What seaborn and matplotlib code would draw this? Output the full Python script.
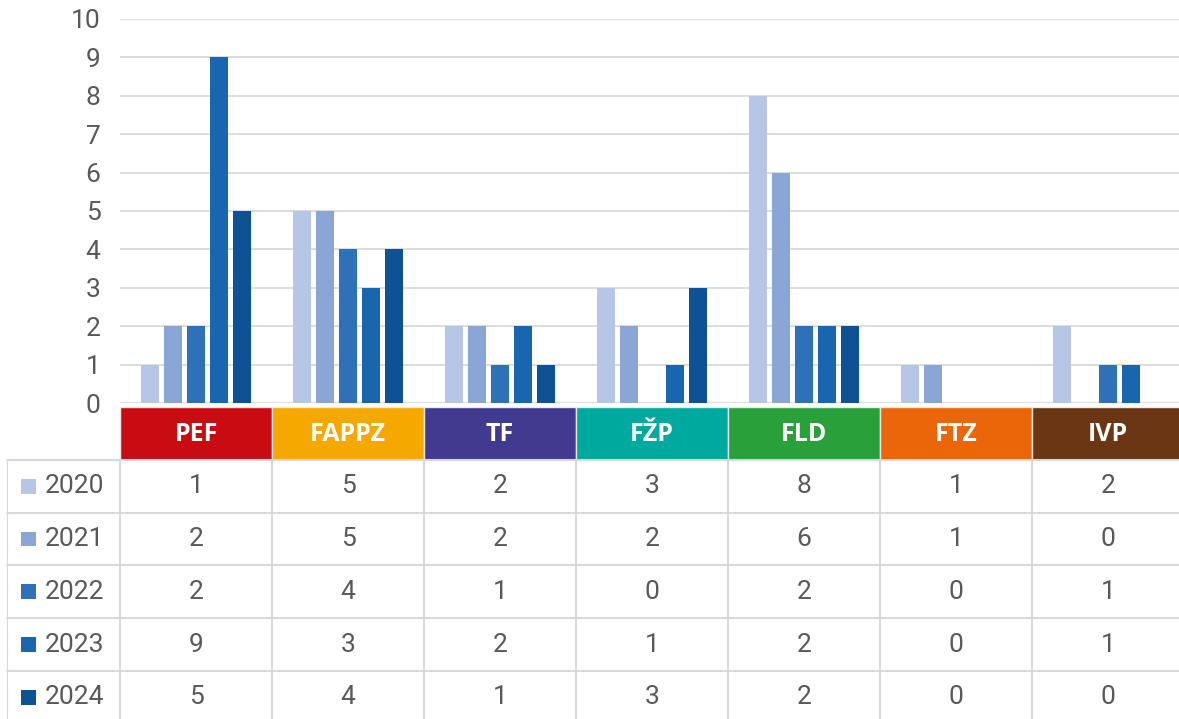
import numpy as np
import pandas as pd
import matplotlib
matplotlib.use("Agg")
import matplotlib.pyplot as plt
from matplotlib.patches import Rectangle
import seaborn as sns

# ---- data ----
categories = ["PEF", "FAPPZ", "TF", "FŽP", "FLD", "FTZ", "IVP"]
years = ["2020", "2021", "2022", "2023", "2024"]
v2020 = [1, 5, 2, 3, 8, 1, 2]
v2021 = [2, 5, 2, 2, 6, 1, 0]
v2022 = [2, 4, 1, 0, 2, 0, 1]
v2023 = [9, 3, 2, 1, 2, 0, 1]
v2024 = [5, 4, 1, 3, 2, 0, 0]
series = [v2020, v2021, v2022, v2023, v2024]
year_colors = ["#B5C6E6", "#8AA6D7", "#2E71B8", "#1965AE", "#0E5296"]
header_colors = ["#C90C12", "#F5A800", "#413A8E", "#00A99D", "#2AA03A", "#EB6608", "#6B3614"]

rows = []
for y, vals in zip(years, series):
    for c, v in zip(categories, vals):
        rows.append({"cat": c, "year": y, "value": v})
df = pd.DataFrame(rows)

sns.set_theme(style="white")
plt.rcParams["font.family"] = ["Roboto", "DejaVu Sans"]

W, H = 1179, 719
fig = plt.figure(figsize=(W / 100, H / 100), dpi=100)

def fx(px):
    return px / W

def fy(py):
    return 1 - py / H

# bar axes: x 120..1184 px, y 19 (=10) .. 403 (=0)
x_left, x_right = 120, 1184
ax = fig.add_axes([fx(x_left), fy(403), fx(x_right - x_left), (403 - 19) / H])
sns.barplot(data=df, x="cat", y="value", hue="year", order=categories,
            hue_order=years, palette=year_colors, width=0.76, gap=0.22,
            linewidth=0, saturation=1, ax=ax, legend=False)
ax.set_xlim(-0.5, len(categories) - 0.5)
ax.set_ylim(0, 10)
ax.set_yticks(range(0, 11))
ax.set_yticklabels([str(i) for i in range(0, 11)])
ax.tick_params(axis="y", length=0, pad=14, labelsize=19, labelcolor="#595959")
ax.set_xticks([])
ax.set_xlabel("")
ax.set_ylabel("")
ax.yaxis.grid(True, color="#D9D9D9", linewidth=1.3)
ax.set_axisbelow(True)
for s in ax.spines.values():
    s.set_visible(False)

# table axes
cat_px = (x_right - x_left) / len(categories)
left_px = 7
left_units = (x_left - left_px) / cat_px
row_h = 52.8
n_rows = 1 + len(years)
top_px = 407
tax = fig.add_axes([fx(left_px), fy(top_px + n_rows * row_h),
                    fx(x_right - left_px), n_rows * row_h / H])
tax.set_xlim(-0.5 - left_units, len(categories) - 0.5)
tax.set_ylim(n_rows, 0)
tax.axis("off")

grid_c = "#D9D9D9"
# header cells
for i, (c, col) in enumerate(zip(categories, header_colors)):
    tax.add_patch(Rectangle((i - 0.5, 0), 1, 1, facecolor=col, edgecolor="#EAEAEA", linewidth=1.0))
    tax.text(i, 0.52, c, ha="center", va="center", color="white", fontsize=18,
             fontweight="bold", family=["Open Sans", "DejaVu Sans"])

# body grid
xl = -0.5 - left_units
xr = len(categories) - 0.5
for r in range(1, n_rows + 1):
    tax.plot([xl, xr], [r, r], color=grid_c, lw=1.5, clip_on=False)
tax.plot([xl, xl], [1, n_rows], color=grid_c, lw=1.5)
for i in range(len(categories) + 1):
    tax.plot([i - 0.5, i - 0.5], [1, n_rows], color=grid_c, lw=1.5)

# body rows
sq_w = 15 / cat_px
for r, (y, vals, col) in enumerate(zip(years, series, year_colors), start=1):
    tax.add_patch(Rectangle((xl + 14 / cat_px, r + 0.5 - 0.14), sq_w, 0.28,
                            facecolor=col, edgecolor="none"))
    tax.text(xl + 38 / cat_px, r + 0.5, y, ha="left", va="center",
             color="#595959", fontsize=19)
    for i, v in enumerate(vals):
        tax.text(i, r + 0.5, str(v), ha="center", va="center",
                 color="#595959", fontsize=19)

fig.savefig("out.png", dpi=100)
